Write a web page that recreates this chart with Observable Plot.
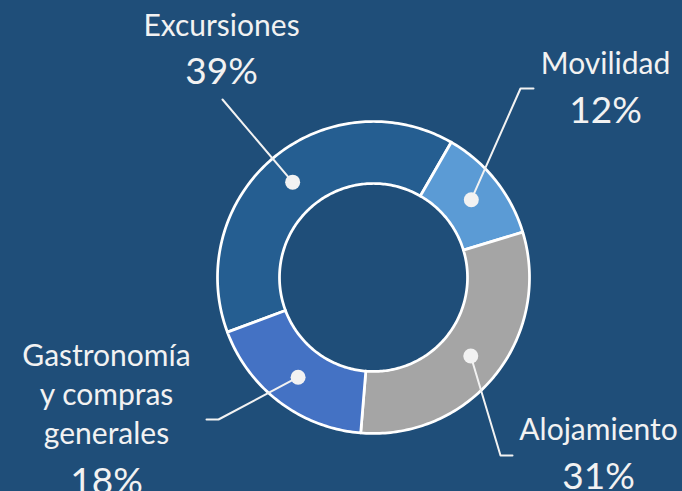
<!DOCTYPE html>
<html>
<head>
<meta charset="utf-8">
<script src="https://cdn.jsdelivr.net/npm/d3@7"></script>
<script src="https://cdn.jsdelivr.net/npm/@observablehq/plot@0.6"></script>
<style>
  html, body { margin: 0; padding: 0; background: #1F4E79; }
  #chart { width: 682px; height: 491px; overflow: hidden; }
  svg { display: block; }
</style>
</head>
<body>
<div id="chart"></div>
<script>
// ---- data ----
const categories = ["Excursiones", "Movilidad", "Alojamiento", "Gastronomía\ny compras\ngenerales"];
const values = [39, 12, 31, 18];
const colors = ["#255E91", "#5B9BD5", "#A5A5A5", "#4472C4"];

// ---- layout (pixels, relative to the donut centre) ----
const W = 682, H = 491;
const cx = 373, cy = 277;
const rOuter = 156, rInner = 94;
const startDeg = -110.5;
const labelLayout = [
  {path: [[-151, -178]], labelX: -152, labelY: -242, numY: -194},
  {path: [[147, -189], [160, -189]], labelX: 232, labelY: -204, numY: -155},
  {path: [[127, 178], [139, 178]], labelX: 225, labelY: 162, numY: 211},
  {path: [[-155, 142], [-167, 142]], labelX: -267, labelY: 166, numY: 216}
];

const pie = d3.pie().sort(null).value(d => d.value)
  .startAngle(startDeg * Math.PI / 180)
  .endAngle((startDeg + 360) * Math.PI / 180);
const rows = categories.map((c, i) => ({category: c, value: values[i]}));
const arcs = pie(rows);

// slice polygons
const slicePts = [];
arcs.forEach(a => {
  const n = Math.max(8, Math.ceil((a.endAngle - a.startAngle) * 180 / Math.PI));
  for (let k = 0; k <= n; k++) {
    const t = a.startAngle + (a.endAngle - a.startAngle) * k / n;
    slicePts.push({category: a.data.category, x: rOuter * Math.sin(t), y: -rOuter * Math.cos(t)});
  }
  for (let k = n; k >= 0; k--) {
    const t = a.startAngle + (a.endAngle - a.startAngle) * k / n;
    slicePts.push({category: a.data.category, x: rInner * Math.sin(t), y: -rInner * Math.cos(t)});
  }
});

const arcGen = d3.arc().innerRadius(rInner).outerRadius(rOuter);
const dots = arcs.map(a => {
  const [x, y] = arcGen.centroid(a);
  return {category: a.data.category, x, y};
});

const leaders = [];
dots.forEach((d, i) => {
  leaders.push({category: d.category, x: d.x, y: d.y});
  labelLayout[i].path.forEach(([x, y]) => leaders.push({category: d.category, x, y}));
});

const labels = rows.map((r, i) => ({
  text: r.category, num: r.value + "%",
  x: labelLayout[i].labelX, y: labelLayout[i].labelY, ny: labelLayout[i].numY
}));

const textColor = "#F2F2F2";
const font = "Lato, 'Open Sans', sans-serif";

const chart = Plot.plot({
  width: W, height: H,
  margin: 0,
  style: {background: "#1F4E79", fontFamily: font},
  x: {domain: [-cx, W - cx], range: [0, W], axis: null},
  y: {domain: [-cy, H - cy], range: [0, H], axis: null},
  color: {domain: categories, range: colors},
  marks: [
    Plot.line(slicePts, {x: "x", y: "y", z: "category", fill: "category", stroke: "white", strokeWidth: 2.75, curve: "linear-closed", strokeLinejoin: "round"}),
    Plot.line(leaders, {x: "x", y: "y", z: "category", stroke: textColor, strokeWidth: 2}),
    Plot.dot(dots, {x: "x", y: "y", r: 7.5, fill: textColor, stroke: null}),
    Plot.text(labels, {x: "x", y: "y", text: "text", fill: textColor, fontSize: 30, textAnchor: "middle", lineAnchor: "bottom", lineHeight: 1.3}),
    Plot.text(labels, {x: "x", y: "ny", text: "num", fill: textColor, fontSize: 37, textAnchor: "middle", lineAnchor: "bottom"})
  ]
});
document.getElementById("chart").append(chart);
</script>
</body>
</html>
